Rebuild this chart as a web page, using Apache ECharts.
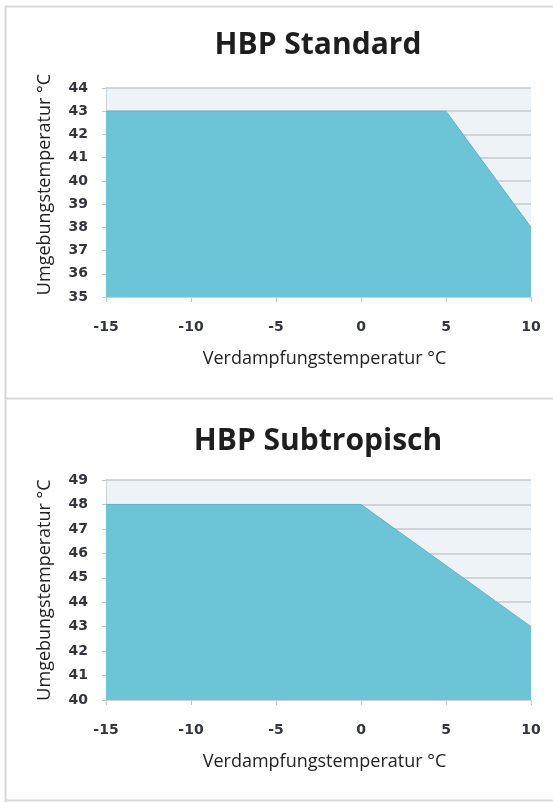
<!DOCTYPE html>
<html>
<head>
<meta charset="utf-8">
<script src="https://cdn.jsdelivr.net/npm/echarts@6/dist/echarts.min.js"></script>
<style>
  html, body { margin: 0; padding: 0; background: #fff; }
  #chart-container { width: 553px; height: 802px; }
</style>
</head>
<body>
<div id="chart-container"></div>
<script>
// operating envelopes
var stdEvap = [-15, 5, 10];
var stdAmbient = [43, 43, 38];
var subEvap = [-15, 0, 10];
var subAmbient = [48, 48, 43];

var xTicks = [-15, -10, -5, 0, 5, 10];
var stdYTicks = [35, 36, 37, 38, 39, 40, 41, 42, 43, 44];
var subYTicks = [40, 41, 42, 43, 44, 45, 46, 47, 48, 49];

var titles = ['HBP Standard', 'HBP Subtropisch'];
var xName = 'Verdampfungstemperatur °C';
var yName = 'Umgebungstemperatur °C';

var dom = document.getElementById('chart-container');
var myChart = echarts.init(dom, null, { renderer: 'canvas' });

function pairs(xs, ys) {
  return xs.map(function (x, i) { return [x, ys[i]]; });
}

var fillColor = '#6bc5d7';
var gridColor = '#c6c9cc';
var labelStyle = {
  color: '#33353d',
  fontFamily: 'DejaVu Sans',
  fontWeight: 'bold',
  fontSize: 14
};

function xAxisFor(idx) {
  return {
    gridIndex: idx,
    type: 'value',
    min: xTicks[0],
    max: xTicks[xTicks.length - 1],
    interval: 5,
    name: xName,
    nameLocation: 'middle',
    nameGap: 53,
    nameTextStyle: { fontFamily: 'Open Sans', fontSize: 18, color: '#222', padding: [0, 0, 0, 12] },
    axisLine: { show: true, onZero: false, lineStyle: { color: '#cfd2d4' } },
    axisTick: { show: true, length: 5, lineStyle: { color: '#c4c7ca' } },
    axisLabel: Object.assign({ margin: 23 }, labelStyle),
    splitLine: { show: false }
  };
}

function yAxisFor(idx, ticks, namePad) {
  return {
    gridIndex: idx,
    type: 'value',
    min: ticks[0],
    max: ticks[ticks.length - 1],
    interval: 1,
    name: yName,
    nameLocation: 'middle',
    nameGap: 52,
    nameTextStyle: { fontFamily: 'Open Sans', fontSize: 18, color: '#222', padding: namePad },
    axisLine: { show: true, onZero: false, lineStyle: { color: '#cfd2d4' } },
    axisTick: { show: true, length: 4, lineStyle: { color: '#c4c7ca' } },
    axisLabel: Object.assign({ margin: 18 }, labelStyle),
    splitLine: { show: true, lineStyle: { color: gridColor, width: 1.5 } }
  };
}

var option = {
  animation: false,
  title: [
    {
      text: titles[0], left: 313, top: 25, textAlign: 'center',
      textStyle: { fontFamily: 'Open Sans', fontWeight: 'bold', fontSize: 30, color: '#1e1e1e' }
    },
    {
      text: titles[1], left: 313, top: 421, textAlign: 'center',
      textStyle: { fontFamily: 'Open Sans', fontWeight: 'bold', fontSize: 30, color: '#1e1e1e' }
    }
  ],
  grid: [
    { left: 106, right: 22, top: 88, height: 209, show: true, backgroundColor: '#eef3f7', borderWidth: 0 },
    { left: 106, right: 22, top: 480, height: 220, show: true, backgroundColor: '#eef3f7', borderWidth: 0 }
  ],
  xAxis: [xAxisFor(0), xAxisFor(1)],
  yAxis: [yAxisFor(0, stdYTicks, [0, 0, 0, 16]), yAxisFor(1, subYTicks, 0)],
  series: [
    {
      type: 'line', xAxisIndex: 0, yAxisIndex: 0,
      data: pairs(stdEvap, stdAmbient),
      symbol: 'none',
      lineStyle: { color: '#5cb4c6', width: 1 },
      areaStyle: { color: fillColor, opacity: 1, origin: 'start' }
    },
    {
      type: 'line', xAxisIndex: 1, yAxisIndex: 1,
      data: pairs(subEvap, subAmbient),
      symbol: 'none',
      lineStyle: { color: '#5cb4c6', width: 1 },
      areaStyle: { color: fillColor, opacity: 1, origin: 'start' }
    }
  ],
  graphic: [
    { type: 'line', shape: { x1: 5.5, y1: 6, x2: 5.5, y2: 802 }, style: { stroke: '#d8d8d8', lineWidth: 2 } },
    { type: 'line', shape: { x1: 5, y1: 6.5, x2: 553, y2: 6.5 }, style: { stroke: '#dadada', lineWidth: 2 } },
    { type: 'line', shape: { x1: 5, y1: 398.5, x2: 553, y2: 398.5 }, style: { stroke: '#dadada', lineWidth: 2 } },
    { type: 'line', shape: { x1: 5, y1: 800.5, x2: 553, y2: 800.5 }, style: { stroke: '#dadada', lineWidth: 2 } }
  ]
};

if (option && typeof option === 'object') {
  myChart.setOption(option);
}

window.addEventListener('resize', myChart.resize);
</script>
</body>
</html>
